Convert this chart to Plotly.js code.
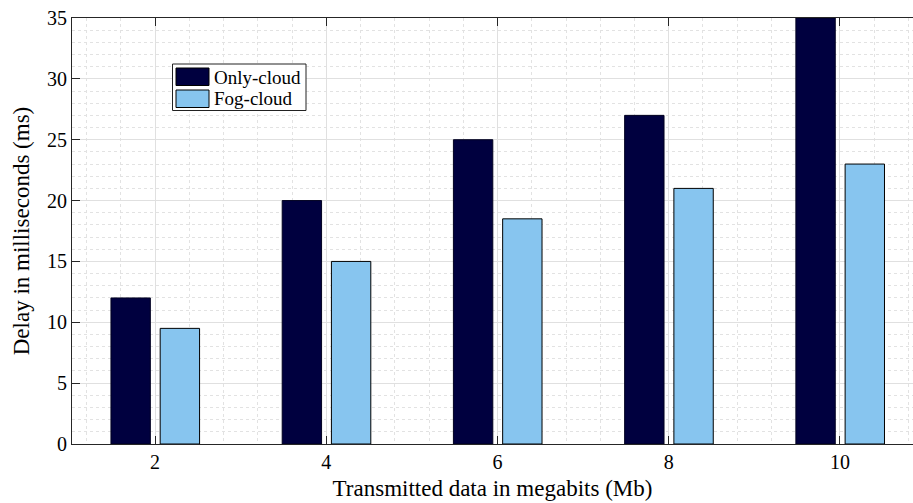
<!DOCTYPE html>
<html>
<head>
<meta charset="utf-8">
<script src="https://cdn.plot.ly/plotly-3.0.1.min.js"></script>
<style>html,body{margin:0;padding:0;background:#fff;}#chart{width:913px;height:503px;}</style>
</head>
<body>
<div id="chart"></div>
<script>
const dataSizes = [2, 4, 6, 8, 10];
const onlyCloud = [12, 20, 25, 27, 35];
const fogCloud = [9.5, 15, 18.5, 21, 23];
const seriesNames = ['Only-cloud', 'Fog-cloud'];
const seriesColors = ['#00003f', '#87c5ef'];
const xTicks = [2, 4, 6, 8, 10];
const yTicks = [0, 5, 10, 15, 20, 25, 30, 35];

const font = 'Liberation Serif';
const W = 913, H = 503;
const M = {l: 72, r: 0, t: 18, b: 59};
const PW = W - M.l - M.r, PH = H - M.t - M.b;
// pixel -> paper helpers (legend placement only)
const px = v => (v - M.l) / PW;
const py = v => 1 - (v - M.t) / PH;

const traces = [
  {
    type: 'bar', name: seriesNames[0], x: dataSizes, y: onlyCloud,
    width: 0.46, offset: -0.515, showlegend: false,
    marker: {color: seriesColors[0], line: {color: '#000020', width: 1}}
  },
  {
    type: 'bar', name: seriesNames[1], x: dataSizes, y: fogCloud,
    width: 0.46, offset: 0.06, showlegend: false,
    marker: {color: seriesColors[1], line: {color: '#000000', width: 1}}
  }
];

// Legend box drawn to match the reference's wide swatches
const shapes = [
  {type: 'rect', xref: 'paper', yref: 'paper', x0: px(172.5), x1: px(306), y0: py(110.5), y1: py(64),
   fillcolor: '#ffffff', line: {color: '#222', width: 1}, layer: 'above'}
];
const annotations = [];
const rowTop = [68, 90];
seriesNames.forEach((name, i) => {
  shapes.push({type: 'rect', xref: 'paper', yref: 'paper', x0: px(176), x1: px(209),
    y0: py(rowTop[i] + 17.5), y1: py(rowTop[i]),
    fillcolor: seriesColors[i], line: {color: '#000', width: 1}, layer: 'above'});
  annotations.push({xref: 'paper', yref: 'paper', x: px(212), y: py(rowTop[i] + 9),
    xanchor: 'left', yanchor: 'middle', text: name, showarrow: false,
    font: {family: font, size: 19, color: '#000'}});
});

const layout = {
  width: W, height: H,
  margin: {l: M.l, r: M.r, t: M.t, b: M.b, pad: 0},
  paper_bgcolor: '#ffffff', plot_bgcolor: '#ffffff',
  font: {family: font, color: '#000', size: 19},
  barmode: 'overlay',
  showlegend: false,
  shapes: shapes,
  annotations: annotations,
  xaxis: {
    range: [1.03, 10.853],
    tickvals: xTicks, ticktext: xTicks.map(String),
    ticks: 'inside', ticklen: 8, tickcolor: '#262626', tickwidth: 1,
    showline: true, linecolor: '#262626', linewidth: 1, mirror: 'ticks',
    showgrid: true, gridcolor: '#e0e0e0', gridwidth: 1,
    minor: {dtick: 0.4, tick0: 0, showgrid: true, gridcolor: '#e2e2e2', griddash: 'dot', gridwidth: 1, ticks: ''},
    zeroline: false,
    tickfont: {family: font, size: 20, color: '#000'},
    title: {text: 'Transmitted data in megabits (Mb)', font: {family: font, size: 23, color: '#000'}, standoff: 7}
  },
  yaxis: {
    range: [0, 35],
    tickvals: yTicks, ticktext: yTicks.map(String),
    ticks: 'inside', ticklen: 8, tickcolor: '#262626', tickwidth: 1,
    showline: true, linecolor: '#262626', linewidth: 1, mirror: false,
    showgrid: true, gridcolor: '#e0e0e0', gridwidth: 1,
    minor: {dtick: 1, tick0: 0, showgrid: true, gridcolor: '#e2e2e2', griddash: 'dot', gridwidth: 1, ticks: ''},
    zeroline: false,
    tickfont: {family: font, size: 20, color: '#000'},
    title: {text: 'Delay in milliseconds (ms)', font: {family: font, size: 23, color: '#000'}, standoff: 10}
  }
};

Plotly.newPlot('chart', traces, layout, {displayModeBar: false, staticPlot: true});
</script>
</body>
</html>
